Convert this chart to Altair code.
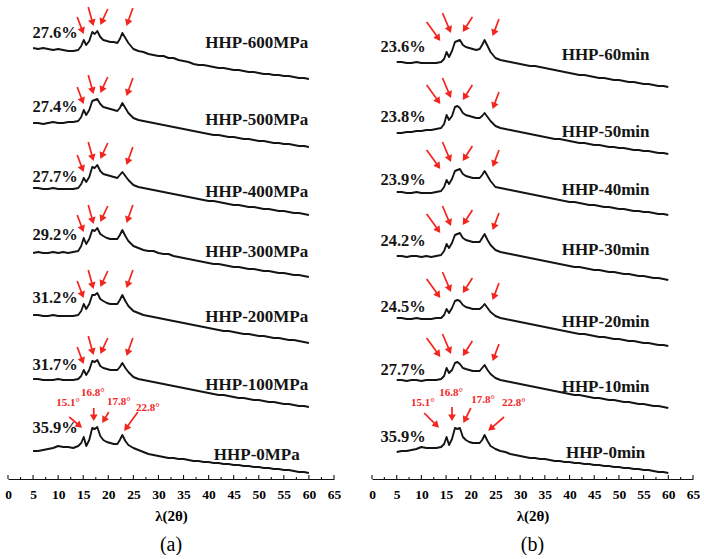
import math
import altair as alt
import pandas as pd

SERIF = "Liberation Serif"
INK = "#141414"
RED = "#f2261f"

# 2θ positions (degrees) at which every diffractogram is sampled
TWO_THETA = ([5, 6, 7, 8, 9, 10, 11, 12, 13, 14]
             + [14.6, 15.1, 15.6, 16.2, 16.8, 17.3, 17.8, 18.4, 19, 19.7,
                20.4, 21.1, 21.8, 22.3, 22.8, 23.4, 24]
             + list(range(25, 61)))

# ---------------- (a) pressure series ----------------
PRESSURE_NAMES = ["HHP-600MPa", "HHP-500MPa", "HHP-400MPa", "HHP-300MPa",
                  "HHP-200MPa", "HHP-100MPa", "HHP-0MPa"]
PRESSURE_CRYST = ["27.6%", "27.4%", "27.7%", "29.2%", "31.2%", "31.7%", "35.9%"]
PRESSURE_OFFSET = [400, 332, 264, 202, 136, 72, 6]
PRESSURE_CURVES = [
    [31, 30, 31, 30, 29, 30, 29, 28, 28, 29,
     33, 39, 34, 38, 47, 45, 48, 42, 39, 38, 37, 37, 36, 40, 46, 41, 36,
     30, 28, 27, 25, 24, 23, 23, 21, 21, 19, 18, 17, 15, 14, 14, 13, 12, 11, 11, 10,
     9, 9, 8, 7, 7, 6, 5, 5, 4, 4, 3, 3, 2, 1, 1, 0],
    [24, 24, 23, 24, 25, 24, 24, 25, 25, 26,
     30, 37, 32, 37, 46, 47, 48, 43, 40, 39, 38, 37, 36, 39, 44, 39, 34,
     29, 27, 26, 25, 24, 23, 22, 21, 20, 19, 18, 17, 16, 15, 14, 13, 12, 12, 11, 10,
     10, 9, 8, 8, 7, 6, 6, 5, 4, 4, 3, 3, 2, 1, 1, 0],
    [27, 27, 26, 26, 27, 26, 26, 26, 26, 27,
     31, 37, 33, 38, 48, 47, 50, 44, 41, 40, 39, 38, 37, 40, 43, 39, 35,
     30, 28, 27, 26, 25, 24, 23, 22, 21, 20, 19, 18, 17, 16, 15, 14, 14, 13, 12, 11,
     10, 10, 9, 8, 8, 7, 6, 6, 5, 4, 4, 3, 2, 2, 1, 0],
    [24, 25, 24, 24, 25, 24, 25, 24, 25, 26,
     31, 39, 33, 38, 47, 46, 49, 43, 41, 39, 38, 38, 38, 42, 47, 41, 36,
     31, 29, 27, 26, 26, 24, 23, 23, 21, 20, 19, 18, 17, 16, 15, 14, 13, 13, 12, 11,
     10, 10, 9, 8, 8, 7, 6, 6, 5, 4, 4, 3, 2, 2, 1, 0],
    [28, 28, 27, 27, 28, 27, 27, 27, 27, 28,
     32, 39, 34, 39, 48, 48, 50, 44, 42, 40, 39, 39, 39, 43, 48, 42, 37,
     32, 30, 28, 27, 26, 25, 24, 23, 22, 21, 20, 19, 18, 17, 16, 15, 14, 13, 12, 12,
     11, 10, 9, 9, 8, 7, 7, 6, 5, 5, 4, 3, 3, 2, 1, 0],
    [28, 28, 27, 27, 27, 28, 27, 27, 27, 28,
     31, 37, 32, 37, 46, 45, 47, 41, 39, 38, 37, 37, 37, 40, 44, 39, 35,
     30, 28, 27, 26, 25, 24, 23, 22, 21, 20, 19, 18, 17, 16, 15, 14, 13, 12, 12, 11,
     10, 9, 9, 8, 7, 7, 6, 5, 5, 4, 3, 3, 2, 1, 1, 0],
    [22, 22, 23, 24, 25, 27, 26, 26, 25, 27,
     30, 36, 27, 33, 45, 44, 46, 37, 33, 31, 30, 29, 29, 33, 38, 32, 28,
     25, 23, 21, 19, 18, 17, 16, 15, 15, 14, 14, 13, 12, 12, 11, 11, 10, 10, 9, 9,
     8, 8, 7, 7, 6, 6, 5, 5, 4, 4, 3, 3, 2, 1, 1, 0],
]

# ---------------- (b) treatment-time series ----------------
TIME_NAMES = ["HHP-60min", "HHP-50min", "HHP-40min", "HHP-30min",
              "HHP-20min", "HHP-10min", "HHP-0min"]
TIME_CRYST = ["23.6%", "23.8%", "23.9%", "24.2%", "24.5%", "27.7%", "35.9%"]
TIME_OFFSET = [392, 325, 264, 199, 133, 71, 6]
TIME_CURVES = [
    [25, 25, 24, 24, 25, 24, 24, 24, 24, 25,
     28, 35, 30, 36, 45, 46, 47, 42, 40, 39, 38, 37, 38, 42, 47, 41, 35,
     29, 27, 26, 25, 24, 23, 22, 21, 21, 20, 19, 18, 17, 16, 15, 14, 13, 12, 12, 11,
     10, 9, 9, 8, 7, 7, 6, 5, 5, 4, 3, 3, 2, 1, 1, 0],
    [21, 21, 22, 22, 23, 23, 24, 24, 25, 26,
     30, 39, 34, 38, 47, 48, 46, 41, 39, 38, 37, 36, 36, 38, 41, 37, 33,
     28, 26, 25, 24, 23, 22, 21, 20, 19, 18, 17, 16, 15, 15, 14, 13, 12, 11, 11, 10,
     9, 9, 8, 7, 7, 6, 6, 5, 4, 4, 3, 3, 2, 1, 1, 0],
    [23, 23, 22, 22, 23, 22, 22, 22, 23, 24,
     28, 35, 31, 36, 44, 45, 46, 41, 39, 38, 37, 37, 37, 40, 44, 39, 34,
     28, 27, 26, 25, 24, 23, 22, 21, 20, 19, 18, 17, 16, 15, 14, 13, 13, 12, 11, 10,
     10, 9, 8, 8, 7, 6, 6, 5, 4, 4, 3, 3, 2, 1, 1, 0],
    [24, 24, 23, 24, 24, 23, 24, 23, 24, 25,
     29, 36, 32, 37, 45, 46, 47, 42, 40, 39, 38, 38, 38, 42, 46, 40, 35,
     30, 28, 27, 26, 25, 24, 23, 22, 21, 20, 19, 18, 17, 16, 15, 14, 13, 13, 12, 11,
     10, 10, 9, 8, 8, 7, 6, 6, 5, 4, 4, 3, 2, 2, 1, 0],
    [28, 28, 27, 27, 28, 27, 27, 27, 28, 28,
     31, 37, 33, 38, 45, 46, 45, 41, 39, 38, 37, 37, 37, 39, 42, 38, 34,
     30, 28, 27, 26, 25, 24, 23, 22, 21, 20, 19, 18, 17, 16, 15, 14, 13, 12, 12, 11,
     10, 9, 9, 8, 7, 7, 6, 5, 5, 4, 3, 3, 2, 1, 1, 0],
    [28, 28, 27, 28, 28, 27, 28, 28, 28, 29,
     32, 40, 35, 38, 45, 46, 44, 40, 39, 38, 37, 37, 37, 40, 43, 38, 34,
     30, 28, 27, 26, 25, 24, 23, 22, 21, 20, 19, 18, 17, 16, 15, 14, 13, 13, 12, 11,
     10, 10, 9, 8, 8, 7, 6, 6, 5, 4, 4, 3, 2, 2, 1, 0],
    [21, 22, 22, 23, 24, 26, 25, 25, 25, 26,
     29, 36, 28, 34, 45, 44, 45, 36, 33, 31, 30, 30, 30, 33, 38, 32, 27,
     24, 22, 21, 19, 18, 17, 16, 15, 15, 14, 14, 13, 12, 12, 11, 11, 10, 10, 9, 9,
     8, 8, 7, 7, 6, 6, 5, 5, 4, 4, 3, 3, 2, 1, 1, 0],
]

# label anchors (data units)
PRESSURE_NAME_POS = (49.6, [436, 359, 287, 227, 162, 94, 24])
PRESSURE_PCT_POS = (9.4, [446, 372, 302, 244, 181, 114, 51])
TIME_NAME_POS = (47.3, [424, 347, 289, 229, 157, 92, 26])
TIME_PCT_POS = (6.3, [432, 362, 299, 238, 172, 109, 42])

# characteristic reflections of the crystalline fraction
PEAK_LABELS = ["15.1°", "16.8°", "17.8°", "22.8°"]
PEAK_INDEX = [11, 14, 16, 24]

# arrow styling per panel: tip 2θ, lift above the reflection, tail vector (px)
PRESSURE_ARROWS = dict(tip_x=[15.0, 17.0, 18.5, 23.7], lift=[7, 7, 7, 8],
                       tail=[(-6, -16), (-5, -18), (7, -15), (6, -17)])
TIME_ARROWS = dict(tip_x=[13.7, 15.9, 18.5, 24.5], lift=[12, 9, 9, 5],
                   tail=[(-13, -18), (-8, -19), (9, -14), (6, -16)])

# annotated arrows and angle labels on the untreated samples
PRESSURE_BASE = dict(tips=[(14.6, 52), (17.1, 59), (18.9, 57), (23.3, 49)],
                     tail=[(-12, -10), (0, -12), (6, -10), (13, -18)],
                     text=[(12.0, 76), (16.9, 86), (22.1, 77), (27.9, 71)])
TIME_BASE = dict(tips=[(13.4, 52), (16.2, 59), (18.6, 57), (23.7, 49)],
                 tail=[(-14, -14), (0, -13), (7, -14), (15, -13)],
                 text=[(10.3, 76), (16.0, 86), (22.5, 79), (28.7, 76)])

MAJOR_TICKS = list(range(0, 66, 5))
MINOR_TICKS = [t + 2.5 for t in range(0, 65, 5)]

HEIGHT = 479
HEAD_SIZE = 60


def arrow_geometry(tips, tails, pxu):
    head_h = 0.866 * math.sqrt(HEAD_SIZE) / 2
    shafts, heads = [], []
    for (tx, ty), (dx, dy) in zip(tips, tails):
        length = math.hypot(dx, dy)
        ux, uy = -dx / length, -dy / length
        cx = tx - ux * head_h / pxu
        cy = ty + uy * head_h
        shafts.append({"x": tx + dx / pxu, "y": ty - dy, "x2": cx, "y2": cy})
        ang = math.degrees(math.atan2(ux, -uy)) % 360
        heads.append({"x": cx, "y": cy, "angle": ang})
    return shafts, heads


def panel(names, cryst, offsets, curves, name_pos, pct_pos, arrows, base, width, caption):
    pxu = width / 65
    xs = alt.Scale(domain=[0, 65], nice=False, zero=False)
    ys = alt.Scale(domain=[0, HEIGHT], nice=False, zero=False)
    x_axis = alt.Axis(values=MAJOR_TICKS, ticks=False, tickSize=0, grid=False,
                      labelFont=SERIF, labelFontWeight="bold", labelFontSize=13.5,
                      labelColor="black", labelPadding=8, labelFlush=False,
                      domainColor=INK, domainWidth=1.2,
                      title="λ(2θ)", titleFont=SERIF, titleFontWeight="bold",
                      titleFontSize=15, titleColor="black", titlePadding=8)

    def X(f):
        return alt.X(f, type="quantitative", scale=xs, axis=x_axis)

    def Y(f):
        return alt.Y(f, type="quantitative", scale=ys, axis=None)

    rows = []
    for name, off, vals in zip(names, offsets, curves):
        assert len(vals) == len(TWO_THETA), name
        for t, v in zip(TWO_THETA, vals):
            rows.append({"two_theta": t, "intensity": off + v, "sample": name})
    lines = alt.Chart(pd.DataFrame(rows)).mark_line(
        color=INK, strokeWidth=1.9, strokeJoin="round").encode(
        x=X("two_theta"), y=Y("intensity"), detail="sample:N")

    tick_df = pd.DataFrame({"t": MAJOR_TICKS + MINOR_TICKS,
                            "len": [4] * len(MAJOR_TICKS) + [2] * len(MINOR_TICKS),
                            "zero": 0})
    ticks = alt.Chart(tick_df).mark_rule(color=INK, strokeWidth=1.1).encode(
        x=X("t"), y=Y("zero"), y2="len")

    name_df = pd.DataFrame({"label": names, "x": name_pos[0], "y": name_pos[1]})
    name_text = alt.Chart(name_df).mark_text(
        font=SERIF, fontWeight="bold", fontSize=17, color=INK,
        align="center", baseline="middle").encode(x=X("x"), y=Y("y"), text="label:N")

    pct_df = pd.DataFrame({"label": cryst, "x": pct_pos[0], "y": pct_pos[1]})
    pct_text = alt.Chart(pct_df).mark_text(
        font=SERIF, fontWeight="bold", fontSize=16.5, color=INK,
        align="center", baseline="middle").encode(x=X("x"), y=Y("y"), text="label:N")

    shafts, heads = [], []
    for off, vals in list(zip(offsets, curves))[:-1]:
        tips = []
        for k, idx in enumerate(PEAK_INDEX):
            peak = max(vals[idx], vals[idx + 1]) if k == 1 else vals[idx]
            tips.append((arrows["tip_x"][k], off + peak + arrows["lift"][k]))
        s, h = arrow_geometry(tips, arrows["tail"], pxu)
        shafts += s
        heads += h
    s, h = arrow_geometry(base["tips"], base["tail"], pxu)
    shafts += s
    heads += h

    shaft_layer = alt.Chart(pd.DataFrame(shafts)).mark_rule(
        color=RED, strokeWidth=1.7).encode(x=X("x"), y=Y("y"), x2="x2", y2="y2")
    head_layer = alt.Chart(pd.DataFrame(heads)).mark_point(
        shape="triangle", filled=True, size=HEAD_SIZE, color=RED, opacity=1).encode(
        x=X("x"), y=Y("y"), angle=alt.Angle("angle:Q", scale=None))

    peak_df = pd.DataFrame({"label": PEAK_LABELS,
                            "x": [p[0] for p in base["text"]],
                            "y": [p[1] for p in base["text"]]})
    peak_text = alt.Chart(peak_df).mark_text(
        font=SERIF, fontWeight="bold", fontSize=11, color=RED,
        align="center", baseline="middle").encode(x=X("x"), y=Y("y"), text="label:N")

    return alt.layer(ticks, lines, shaft_layer, head_layer, name_text, pct_text, peak_text).properties(
        width=width, height=HEIGHT,
        title=alt.TitleParams(caption, orient="bottom", anchor="middle", font=SERIF,
                              fontSize=20, fontWeight="normal", color="black", offset=11))


left = panel(PRESSURE_NAMES, PRESSURE_CRYST, PRESSURE_OFFSET, PRESSURE_CURVES,
             PRESSURE_NAME_POS, PRESSURE_PCT_POS, PRESSURE_ARROWS, PRESSURE_BASE, 326, "(a)")
right = panel(TIME_NAMES, TIME_CRYST, TIME_OFFSET, TIME_CURVES,
              TIME_NAME_POS, TIME_PCT_POS, TIME_ARROWS, TIME_BASE, 321, "(b)")

chart = alt.hconcat(left, right, spacing=38, bounds="flush").properties(
    padding={"left": 4, "top": 0, "right": 0, "bottom": 0},
    background="white",
).configure_view(stroke=None)

chart.save("out.html", embed_options={"renderer": "svg", "actions": False})
